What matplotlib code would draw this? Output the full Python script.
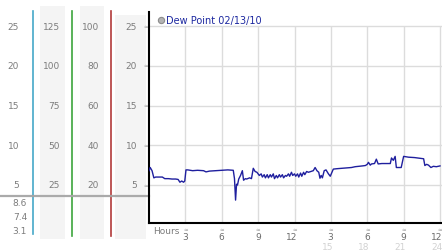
import matplotlib
matplotlib.use('Agg')
import matplotlib.pyplot as plt
from matplotlib.patches import Rectangle
import matplotlib.transforms as mtransforms

# ---------------- data ----------------
hours = [0.00, 0.10, 0.25, 0.40, 0.55, 0.80, 1.10, 1.30, 1.60, 1.90, 2.20, 2.40, 2.55, 2.70, 2.85, 2.95,
         3.05, 3.20, 3.60, 4.00, 4.50, 4.70, 5.00, 5.50, 6.00, 6.50, 6.95, 7.05, 7.14, 7.22, 7.30, 7.40,
         7.55, 7.70, 7.80, 7.95, 8.05, 8.30, 8.45, 8.60, 8.75, 8.90, 9.10, 9.25, 9.35, 9.50, 9.60, 9.75,
         9.85, 10.00, 10.10, 10.25, 10.35, 10.50, 10.60, 10.75, 10.85, 11.00, 11.10, 11.25, 11.35, 11.50,
         11.60, 11.75, 11.85, 12.00, 12.10, 12.25, 12.35, 12.50, 12.60, 12.75, 12.85, 13.00, 13.15, 13.35,
         13.55, 13.70, 13.85, 14.00, 14.10, 14.20, 14.30, 14.45, 14.60, 14.80, 14.95, 15.20, 15.50, 15.90,
         16.30, 16.70, 17.00, 17.30, 17.60, 17.85, 18.00, 18.10, 18.25, 18.35, 18.60, 18.75, 18.90, 19.20,
         19.60, 19.90, 20.00, 20.15, 20.30, 20.40, 20.80, 21.00, 21.40, 21.90, 22.40, 22.65, 22.75, 22.90,
         23.05, 23.25, 23.45, 23.70, 24.00]
dew = [6.8, 7.2, 6.8, 5.9, 6.0, 6.0, 6.0, 5.8, 5.8, 5.75, 5.75, 5.7, 5.35, 5.5, 5.35, 5.5,
       6.9, 6.9, 6.8, 6.85, 6.8, 6.65, 6.75, 6.8, 6.85, 6.9, 6.85, 5.8, 3.1, 5.1, 5.0, 5.75,
       6.2, 6.8, 5.6, 5.8, 5.75, 5.9, 5.8, 7.1, 6.7, 6.6, 6.2, 6.4, 6.0, 6.3, 5.9, 6.3,
       5.9, 6.3, 6.0, 6.4, 5.8, 6.2, 5.9, 6.3, 6.0, 6.3, 5.9, 6.2, 6.1, 6.4,
       6.1, 6.6, 6.2, 6.4, 6.1, 6.4, 6.0, 6.5, 6.1, 6.6, 6.3, 6.7, 6.6, 6.7,
       6.8, 7.2, 6.8, 6.6, 5.85, 6.2, 5.9, 6.8, 6.9, 6.4, 6.1, 7.0, 7.05, 7.1,
       7.15, 7.2, 7.3, 7.35, 7.4, 7.45, 7.6, 7.85, 7.5, 7.65, 7.7, 8.25, 7.65, 7.7,
       7.7, 7.7, 8.4, 8.1, 8.6, 7.2, 7.2, 8.6, 8.5, 8.45, 8.35, 8.3, 7.45, 7.6,
       7.5, 7.2, 7.35, 7.3, 7.4]

series_label = "Dew Point 02/13/10"
y_ticks = [25, 20, 15, 10, 5]
col1_labels = ["25", "20", "15", "10", "5"]
col2_labels = ["125", "100", "75", "50", "25"]
col3_labels = ["100", "80", "60", "40", "20"]
col4_labels = ["25", "20", "15", "10", "5"]
stats = ["8.6", "7.4", "3.1"]
x_ticks = [3, 6, 9, 12, 15, 18, 21, 24]
x_labels_top = ["3", "6", "9", "12", "3", "6", "9", "12"]
x_labels_bottom = ["", "", "", "", "15", "18", "21", "24"]

# ---------------- figure ----------------
W, H = 442, 253
fig = plt.figure(figsize=(W / 100, H / 100), dpi=100)
fig.patch.set_facecolor('white')
plt.rcParams['font.family'] = ['DejaVu Sans']

ov = fig.add_axes([0, 0, 1, 1])
ov.set_xlim(0, W)
ov.set_ylim(H, 0)
ov.axis('off')

L, R, T, B = 149, 442, 13, 224
ax = fig.add_axes([L / W, (H - B) / H, (R - L) / W, (B - T) / H])
ax.set_facecolor('none')
ppu = 7.95
y0 = 5 - (B - 186) / ppu
ax.set_ylim(y0, 25 + (27 - T) / ppu)
ax.set_xlim(0, (R - L) / 12.125)
xmax = ax.get_xlim()[1]
ax.set_xticks([])
ax.set_yticks([])
grid_col = '#dcdcdc'
ax.vlines(x_ticks, y0, max(y_ticks), color=grid_col, lw=1.0, zorder=1)
ax.hlines(y_ticks, 0, xmax, color=grid_col, lw=1.0, zorder=1)
for s in ['top', 'right']:
    ax.spines[s].set_visible(False)
for s in ['left', 'bottom']:
    ax.spines[s].set_color('black')
    ax.spines[s].set_linewidth(1.5)

ax.plot(hours, dew, color='#1f1f9e', lw=1.0, zorder=3)

# ---------------- left panels ----------------
bg = '#f4f4f4'
ov.add_patch(Rectangle((40, 7), 25, 233, facecolor=bg, edgecolor='none'))
ov.add_patch(Rectangle((80, 7), 24, 233, facecolor=bg, edgecolor='none'))
ov.add_patch(Rectangle((115, 16), 31, 224, facecolor=bg, edgecolor='none'))
ov.plot([33, 33], [12, 235], color='#45a8c8', lw=1.2)
ov.plot([72, 72], [12, 237], color='#3da53d', lw=1.2)
ov.plot([111, 111], [12, 237], color='#b23a3a', lw=1.2)
ov.plot([0, 149], [197, 197], color='#a6a6a6', lw=1.6, alpha=0.95)

ytr = mtransforms.blended_transform_factory(ov.transData, ax.transData)
lab_col = '#7c7c7c'
fs = 6.5
for v, a, b, c, d in zip(y_ticks, col1_labels, col2_labels, col3_labels, col4_labels):
    ov.text(19, v, a, transform=ytr, ha='right', va='center', fontsize=fs, color=lab_col)
    ov.text(60, v, b, transform=ytr, ha='right', va='center', fontsize=fs, color=lab_col)
    ov.text(99, v, c, transform=ytr, ha='right', va='center', fontsize=fs, color=lab_col)
    ov.text(137, v, d, transform=ytr, ha='right', va='center', fontsize=fs, color=lab_col)
    ov.text(145.5, v, '≈', transform=ytr, ha='center', va='center', fontsize=4, color='#999999')

for yy, s in zip([204, 218, 232], stats):
    ov.text(27, yy, s, ha='right', va='center', fontsize=fs, color=lab_col)

# ---------------- x labels ----------------
xtr = mtransforms.blended_transform_factory(ax.transData, ov.transData)
xtr_off = mtransforms.offset_copy(xtr, fig=fig, x=2.5, y=0, units='dots')
for t, a, b in zip(x_ticks, x_labels_top, x_labels_bottom):
    ov.text(t, 230.5, '≈', transform=xtr, ha='center', va='center', fontsize=4, color='#999999')
    ov.text(t, 238, a, transform=xtr_off, ha='right', va='center', fontsize=fs, color='#6c6c6c')
    if b:
        ov.text(t, 247.5, b, transform=xtr_off, ha='right', va='center', fontsize=fs, color='#d2d2d2')
ov.text(153, 232, 'Hours', ha='left', va='center', fontsize=fs, color='#7c7c7c')

# ---------------- legend ----------------
ax.plot([], [])
ov2 = fig.add_axes([0, 0, 1, 1])
ov2.set_xlim(0, W)
ov2.set_ylim(H, 0)
ov2.axis('off')
ov2.plot([161], [21], marker='o', ms=4.5, mfc='#b4b4b4', mec='#8c8c8c', mew=0.8, ls='none')
ov2.text(166, 21, series_label, ha='left', va='center', fontsize=7, color='#1c28a0')

fig.savefig('out.png', dpi=100, facecolor='white')
